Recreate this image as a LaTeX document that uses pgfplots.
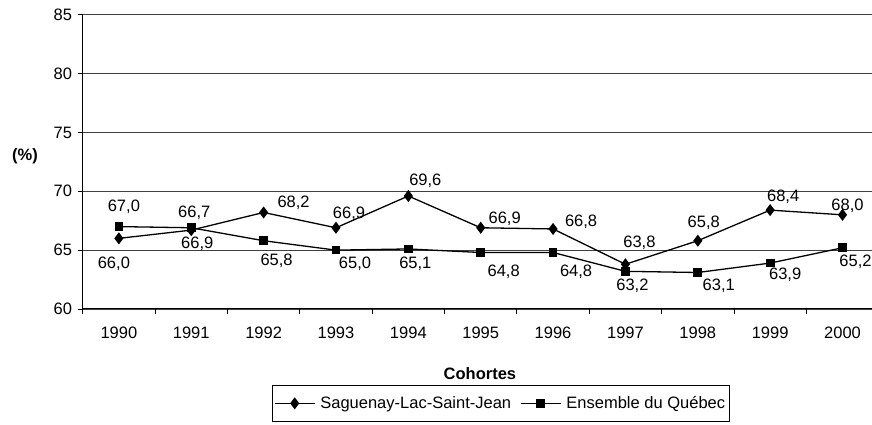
\documentclass[border=0pt]{standalone}
\usepackage{pgfplots}
\usepackage{pgfplotstable}
\pgfplotsset{compat=1.18}
\usepackage{fontspec}
\setmainfont{Liberation Sans}
\pgfplotstableread{
x y dx dy
0 66.0 -5 -25
1 66.7 3 17
2 68.2 30 10
3 66.9 13 14
4 69.6 17 15
5 66.9 24 9
6 66.8 28 7
7 63.8 14 21
8 65.8 6 18
9 68.4 13 13
10 68.0 5 9
}\sag
\pgfplotstableread{
x y dx dy
0 67.0 5 20
1 66.9 6 -16
2 65.8 13 -20
3 65.0 19 -14
4 65.1 7 -15
5 64.8 23 -19
6 64.8 23 -19
7 63.2 7 -14
8 63.1 21 -13
9 63.9 15 -12
10 65.2 13 -14
}\que
\newcommand\fs{\fontsize{16.5pt}{19pt}\selectfont}
\begin{document}
\fs
\begin{tikzpicture}
\path[use as bounding box] (0,0) rectangle (872pt,425pt);
\begin{axis}[
  at={(82.7pt,116pt)}, anchor=south west,
  scale only axis, width=796pt, height=294.3pt,
  xmin=-0.5, xmax=10.5, ymin=60, ymax=85,
  axis x line*=bottom, axis y line*=left,
  axis line style={black, line width=1pt, -},
  xtick={0,...,10},
  xticklabels={1990,1991,1992,1993,1994,1995,1996,1997,1998,1999,2000},
  minor xtick={-0.5,0.5,...,10.5},
  major x tick style={draw=none},
  ytick={60,65,...,85},
  tick align=outside, major tick length=5pt, minor tick length=5pt,
  tick style={black, line width=0.8pt},
  ymajorgrids, grid style={black!75, line width=0.8pt},
  /pgf/number format/assume math mode=true,
  /pgf/number format/.cd, fixed, fixed zerofill, precision=1, use comma, 1000 sep={},
  /pgfplots/.cd,
  yticklabel={\pgfmathprintnumber[fixed,precision=0]{\tick}},
  tick label style={font=\fs},
  xticklabel style={yshift=-7pt},
  xlabel={Cohortes},
  xlabel style={at={(axis description cs:0.499,-0.2185)}, anchor=center, font=\fs\bfseries},
  legend columns=2,
  legend style={at={(axis description cs:0.2374,-0.257)}, anchor=north west,
    draw=black, line width=0.8pt, font=\fs,
    /tikz/every even column/.append style={column sep=7pt},
    /tikz/every odd column/.append style={column sep=3pt},
    inner xsep=2pt, inner ysep=9pt},
  legend image code/.code={\draw[mark repeat=2,mark phase=2,#1] plot coordinates {(0pt,0pt)(20pt,0pt)(40pt,0pt)};},
  clip=false,
]
\addplot[black, line width=1.3pt, mark=diamond*, mark size=5pt, mark options={solid},
  nodes near coords,
  visualization depends on={\thisrow{dx} \as \dx},
  visualization depends on={\thisrow{dy} \as \dy},
  every node near coord/.append style={anchor=center, xshift=\dx pt, yshift=\dy pt, font=\fs, black}]
  table[x=x,y=y] {\sag};
\addlegendentry{Saguenay-Lac-Saint-Jean}
\addplot[black, line width=1.3pt, mark=square*, mark size=3.7pt, mark options={solid},
  nodes near coords,
  visualization depends on={\thisrow{dx} \as \dx},
  visualization depends on={\thisrow{dy} \as \dy},
  every node near coord/.append style={anchor=center, xshift=\dx pt, yshift=\dy pt, font=\fs, black}]
  table[x=x,y=y] {\que};
\addlegendentry{Ensemble du Québec}
\end{axis}
\node[font=\fs\bfseries] at (25pt,268.3pt) {(\%)};
\end{tikzpicture}
\end{document}
